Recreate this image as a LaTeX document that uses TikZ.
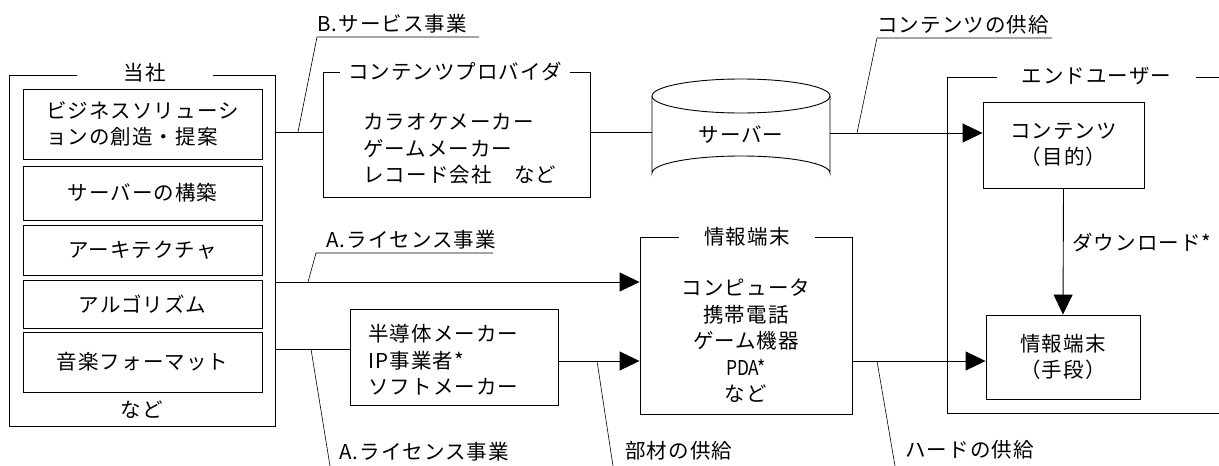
\documentclass[tikz,border=0pt]{standalone}
\usepackage{fontspec}
\setmainfont{Noto Sans CJK JP}[LetterSpace=5]
\newfontfamily\narrowlatin{Noto Sans CJK JP}[FakeStretch=0.85]
\usetikzlibrary{arrows.meta}
\begin{document}
\begin{tikzpicture}[x=1pt,y=-1pt,
  font=\fontsize{20.5}{26.5}\selectfont,
  line width=0.9pt,
  box/.style={draw, inner sep=0pt},
  frametitle/.style={fill=white, inner sep=0pt, minimum height=22pt},
  plain/.style={inner sep=0pt},
  arr/.style={-{Triangle[length=20pt,width=19pt]}},
  tick/.style={line width=0.6pt}
]
\useasboundingbox (0,0) rectangle (1219,466);

% ---- 当社 frame
\node[box, minimum width=266, minimum height=351] (tousha) at (142,250.5) {};
\node[frametitle, minimum width=136] (toushaT) at (145,73) {当社};
\node[box, minimum width=239, minimum height=70] (b1) at (142.5,124) {};
\node[plain, align=left] at (b1.center) {ビジネスソリューシ\\ョンの創造・提案};
\node[box, minimum width=239, minimum height=54] (b2) at (142.5,193) {サーバーの構築};
\node[box, minimum width=239, minimum height=50] (b3) at (142.5,250) {アーキテクチャ};
\node[box, minimum width=239, minimum height=48] (b4) at (142.5,304) {アルゴリズム};
\node[box, minimum width=239, minimum height=60] (b5) at (142.5,362) {音楽フォーマット};
\node[plain] (tnado) at (142,410) {など};

% ---- コンテンツプロバイダ frame
\node[box, minimum width=267, minimum height=125] (cp) at (456.5,134.5) {};
\node[frametitle, minimum width=230] (cpT) at (455,72) {コンテンツプロバイダ};
\node[plain, align=left, anchor=west] (cptext) at (363,149) {カラオケメーカー\\ゲームメーカー\\レコード会社　など};

% ---- server cylinder
\node[plain, minimum width=178, minimum height=111] (server) at (741,135) {サーバー};
\draw (652,96) -- (652,173) arc[start angle=180, end angle=360, x radius=89, y radius=17] -- (830,96);
\draw (741,96) ellipse[x radius=89, y radius=17];

% ---- エンドユーザー frame
\node[box, minimum width=293, minimum height=336] (enduser) at (1093.5,245) {};
\node[frametitle, minimum width=199] (enduserT) at (1096.5,76) {エンドユーザー};
\node[box, minimum width=161, minimum height=86, align=center] (contents) at (1063.5,145) {コンテンツ\\（目的）};
\node[box, minimum width=154, minimum height=84, align=center] (tool) at (1063,357) {情報端末\\（手段）};

% ---- 情報端末 frame
\node[box, minimum width=212, minimum height=177] (info) at (746,325.5) {};
\node[frametitle, minimum width=136] (infoT) at (747,237) {情報端末};
\node[plain, align=center] (infotext) at (746,341) {コンピュータ\\携帯電話\\ゲーム機器\\{\narrowlatin PDA*}\\など};

% ---- 半導体 box
\node[box, minimum width=208, minimum height=96] (semi) at (454,357) {};
\node[plain, align=left, anchor=west] (semitext) at (368,360) {半導体メーカー\\IP事業者*\\ソフトメーカー};

% ---- connector levels
\coordinate (yB) at (0,132);
\coordinate (yC) at (0,133);
\coordinate (yA1) at (0,282);
\coordinate (yA2) at (0,349);
\coordinate (yS) at (0,361);

\draw (tousha.east |- yB) -- (cp.west |- yB);
\draw (cp.east |- yB) -- (server.west |- yB);
\draw[arr] (server.east |- yC) -- (contents.west |- yC);
\draw[arr] (tousha.east |- yA1) -- (info.west |- yA1);
\draw (tousha.east |- yA2) -- (semi.west |- yA2);
\draw[arr] (semi.east |- yS) -- (info.west |- yS);
\draw[arr] (info.east |- yS) -- (tool.west |- yS);
\draw[arr] (contents.south) -- (tool.north);

% ---- labels with leader lines
\coordinate (lB0) at (298,132); \coordinate (lB1) at (317,37); \coordinate (lB2) at (479,37);
\draw[tick] (lB0) -- (lB1) -- (lB2);
\node[plain, anchor=west] (labB) at (317,24) {B.サービス事業};

\coordinate (lC0) at (857,133); \coordinate (lC1) at (877,38); \coordinate (lC2) at (1052,38);
\draw[tick] (lC0) -- (lC1) -- (lC2);
\node[plain, anchor=west] (labC) at (877,25) {コンテンツの供給};

\coordinate (lA0) at (308,282); \coordinate (lA1) at (316,253); \coordinate (lA2) at (493,253);
\draw[tick] (lA0) -- (lA1) -- (lA2);
\node[plain, anchor=west] (labA1) at (326,240) {A.ライセンス事業};

\coordinate (lD0) at (311,349); \coordinate (lD1) at (330,466);
\draw[tick] (lD0) -- (lD1);
\node[plain, anchor=west] (labA2) at (339,452) {A.ライセンス事業};

\coordinate (lE0) at (597,361); \coordinate (lE1) at (613,466);
\draw[tick] (lE0) -- (lE1);
\node[plain, anchor=west] (labE) at (625,451) {部材の供給};

\coordinate (lF0) at (877,361); \coordinate (lF1) at (895,466);
\draw[tick] (lF0) -- (lF1);
\node[plain, anchor=west] (labF) at (905,450) {ハードの供給};

\node[plain, anchor=west] (labDL) at (1072,243) {ダウンロード*};
\end{tikzpicture}
\end{document}
